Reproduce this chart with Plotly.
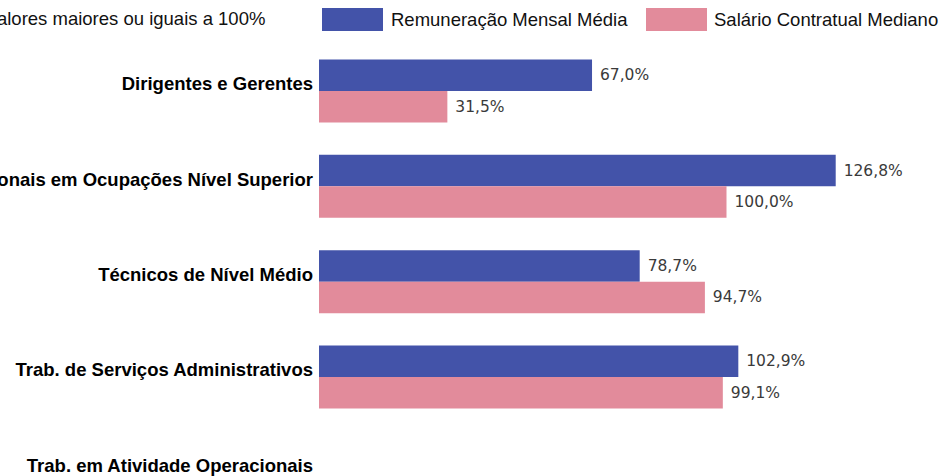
import plotly.graph_objects as go

categories = [
    "Dirigentes e Gerentes",
    "Profissionais em Ocupações Nível Superior",
    "Técnicos de Nível Médio",
    "Trab. de Serviços Administrativos",
    "Trab. em Atividade Operacionais",
]
remuneracao_media = [67.0, 126.8, 78.7, 102.9, None]
salario_mediano = [31.5, 100.0, 94.7, 99.1, None]
series_names = ["Remuneração Mensal Média", "Salário Contratual Mediano"]
note_text = "Valores maiores ou iguais a 100%"

BLUE = "#4353A9"
PINK = "#E28B9B"

W, H = 939, 476
ML, MR, MT, MB = 319, 0, 45, 0
PW, PH = W - ML - MR, H - MT - MB


def fmt(vals):
    return ["" if v is None else "\u00a0" + f"{v:.1f}".replace(".", ",") + "%" for v in vals]


label_font = dict(family="DejaVu Sans", size=15.5, color="#3a3a3a")

fig = go.Figure()
for name, vals, col in [(series_names[0], remuneracao_media, BLUE),
                        (series_names[1], salario_mediano, PINK)]:
    fig.add_trace(go.Bar(
        y=categories, x=vals, name=name, orientation="h",
        marker=dict(color=col, line=dict(width=0)),
        text=fmt(vals), textposition="outside", cliponaxis=False,
        textfont=label_font, showlegend=False,
    ))


def px_x(p):
    return (p - ML) / PW


def px_y(p):
    return (H - MB - p) / PH


shapes = []
annotations = []
legend_items = [(322, 383, 389, series_names[0], BLUE), (646, 707, 712, series_names[1], PINK)]
for x0, x1, tx, name, col in legend_items:
    shapes.append(dict(type="rect", xref="paper", yref="paper",
                       x0=px_x(x0), x1=px_x(x1), y0=px_y(31), y1=px_y(8),
                       fillcolor=col, line=dict(width=0)))
    annotations.append(dict(text=name, xref="paper", yref="paper",
                            x=px_x(tx), y=px_y(20), xanchor="left", yanchor="middle",
                            showarrow=False,
                            font=dict(family="Liberation Sans", size=18.5, color="#111111")))
annotations.append(dict(text=note_text, xref="paper", yref="paper",
                        x=px_x(-16), y=px_y(18), xanchor="left", yanchor="middle",
                        showarrow=False,
                        font=dict(family="Liberation Sans", size=18.5, color="#111111")))

# category spacing ~95.3px, first category centre at y=91px
step = 95.33
top = 0 - (91 - MT) / step
bottom = 4 + (H - MB - (91 + 4 * step)) / step

fig.update_layout(
    width=W, height=H,
    margin=dict(l=ML, r=MR, t=MT, b=MB, autoexpand=False),
    paper_bgcolor="white", plot_bgcolor="white",
    barmode="group", bargap=0.339, bargroupgap=0,
    shapes=shapes, annotations=annotations,
    xaxis=dict(range=[0, PW / 4.075], visible=False, fixedrange=True),
    yaxis=dict(type="category", categoryorder="array", categoryarray=categories,
               range=[bottom, top], showline=False, showgrid=False, zeroline=False,
               ticks="", ticklabelstandoff=5, ticklabelshift=7,
               tickfont=dict(family="Liberation Sans", size=18.5, color="#000000", weight="bold"),
               automargin=False, fixedrange=True),
    showlegend=False,
)

fig.write_html("out.html", config={"displayModeBar": False},
               post_script="document.body.style.margin='0';document.body.style.overflow='hidden';")
